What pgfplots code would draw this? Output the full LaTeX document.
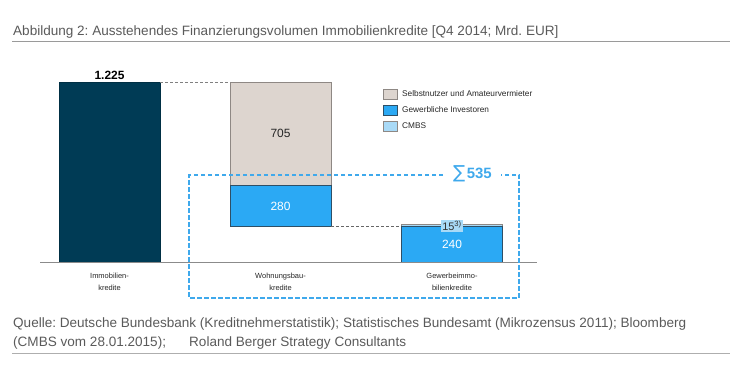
\documentclass[border=0pt]{standalone}
\usepackage{pgfplots}
\pgfplotsset{compat=1.18}
\usepackage{fontspec}
\setmainfont{Liberation Sans}
\newfontfamily\dejavu{DejaVu Sans}
\definecolor{darkbar}{HTML}{003B55}
\definecolor{beige}{HTML}{DDD5CF}
\definecolor{beigeedge}{HTML}{8E8884}
\definecolor{bluebar}{HTML}{2BA9F4}
\definecolor{blueedge}{HTML}{2E4F66}
\definecolor{cmbs}{HTML}{A9DAF7}
\definecolor{boxblue}{HTML}{3FA9EC}
\definecolor{txtgray}{HTML}{5A5A5A}
\definecolor{rulegray}{HTML}{9A9A9A}
\frenchspacing
\begin{document}
\frenchspacing
\begin{tikzpicture}[x=1bp,y=1bp]
\path[use as bounding box] (0,0) rectangle (750,368);
\pgfplotsset{base/.style={scale only axis, width=750bp, height=368bp,
  xmin=0, xmax=750, ymin=-721.39, ymax=1783.06, hide axis, clip=false,
  anchor=south west, at={(0,0)}, bar width=101}}
% single bar
\begin{axis}[base, ybar]
\addplot[fill=darkbar, draw=darkbar!80!black] coordinates {(109.5,1225)};
\end{axis}
% stacked bars
\begin{axis}[base, ybar stacked]
\addplot[draw=none, fill=none] coordinates {(280.5,240) (452,0)};
\addplot[fill=bluebar, draw=blueedge, line width=0.7bp] coordinates {(280.5,280) (452,240)};
\addplot[fill=cmbs, draw=beigeedge, line width=0.7bp] coordinates {(280.5,0) (452,15)};
\addplot[fill=beige, draw=beigeedge, line width=0.7bp] coordinates {(280.5,705) (452,0)};
\end{axis}
% annotations on top
\begin{axis}[base]
\draw[rulegray!90!black, line width=0.8bp] (axis cs:40,0) -- (axis cs:537,0);
\draw[gray, dash pattern=on 3bp off 2bp, line width=0.7bp] (axis cs:160,1225) -- (axis cs:230,1225);
\draw[gray!80!black, dash pattern=on 3bp off 2bp, line width=0.7bp] (axis cs:331,240) -- (axis cs:401,240);
\node[anchor=south, font=\fontsize{12}{14}\selectfont\bfseries, inner sep=2.5bp] at (axis cs:109.5,1225) {1.225};
\node[font=\fontsize{12}{14}\selectfont, text=black!85] at (axis cs:280.5,872.5) {705};
\node[font=\fontsize{12}{14}\selectfont, text=white] at (axis cs:280.5,380) {280};
\node[font=\fontsize{12}{14}\selectfont, text=white] at (axis cs:452,120) {240};
\node[font=\fontsize{11}{12}\selectfont, text=black!80, fill=cmbs, inner sep=1.5bp] at (axis cs:452,245) {15\textsuperscript{3)}};
\end{axis}
% dashed box
\draw[boxblue, line width=1.3bp, dash pattern=on 4.5bp off 2.5bp]
  (443,193) -- (189,193) -- (189,70) -- (519,70) -- (519,193) -- (501,193);
\node[text=boxblue, inner sep=0pt, anchor=base] at (472.5,189.5)
  {{\dejavu\fontsize{18}{18}\selectfont ∑}\kern1.5bp{\fontsize{15}{16}\selectfont\bfseries 535}};
% legend
\foreach \c/\e/\yy/\t in {beige/beigeedge/274/Selbstnutzer und Amateurvermieter,
                          bluebar/blueedge/258/Gewerbliche Investoren,
                          cmbs/beigeedge/242/CMBS}{
  \draw[fill=\c, draw=\e, line width=0.6bp] (383.5,\yy-5) rectangle (397,\yy+5);
  \node[anchor=west, font=\fontsize{8.3}{9}\selectfont, text=black!85, inner sep=0pt] at (402,\yy) {\t};
}
% category labels
\foreach \x/\t in {109.5/Immobilien-\\kredite, 280.5/Wohnungsbau-\\kredite, 452/Gewerbeimmo-\\bilienkredite}{
  \node[align=center, font=\fontsize{7.5}{12}\selectfont, text=black!85, inner sep=0pt] at (\x,86) {\t};
}
% title and rules
\node[anchor=base west, font=\fontsize{13.6}{15}\selectfont, text=txtgray, inner sep=0pt] at (13,332.5)
  {Abbildung 2: Ausstehendes Finanzierungsvolumen Immobilienkredite [Q4 2014; Mrd. EUR]};
\draw[rulegray, line width=1.6bp] (12,326.5) -- (730,326.5);
\node[anchor=base west, font=\fontsize{13.6}{15}\selectfont, text=txtgray, inner sep=0pt] at (13,40.5)
  {Quelle: Deutsche Bundesbank (Kreditnehmerstatistik); Statistisches Bundesamt (Mikrozensus 2011); Bloomberg};
\node[anchor=base west, font=\fontsize{13.6}{15}\selectfont, text=txtgray, inner sep=0pt] at (13,21.5)
  {(CMBS vom 28.01.2015);};
\node[anchor=base west, font=\fontsize{13.6}{15}\selectfont, text=txtgray, inner sep=0pt] at (189,21.5)
  {Roland Berger Strategy Consultants};
\draw[rulegray!80, line width=1bp] (12,14.5) -- (730,14.5);
\end{tikzpicture}
\end{document}
